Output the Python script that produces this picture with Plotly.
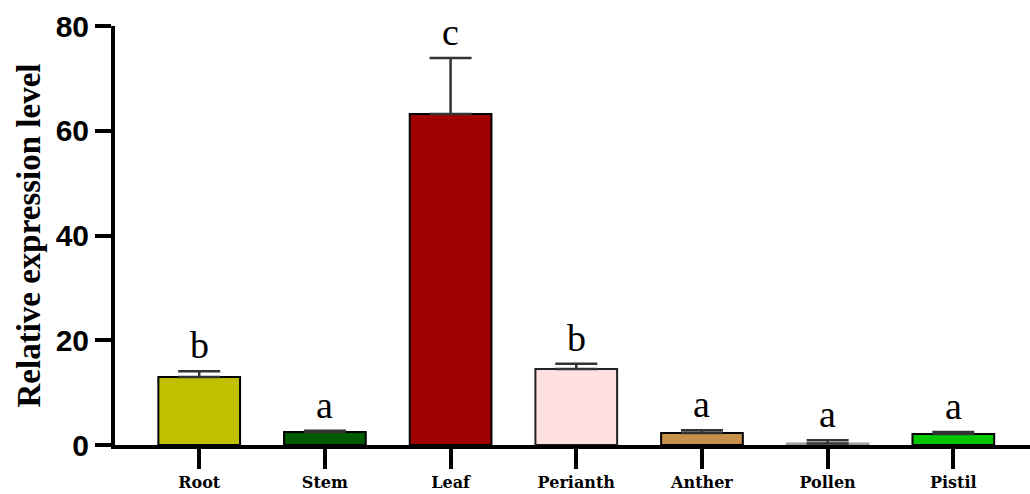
import plotly.graph_objects as go

categories = ["Root", "Stem", "Leaf", "Perianth", "Anther", "Pollen", "Pistil"]
values = [13.0, 2.5, 63.2, 14.5, 2.3, 0.3, 2.1]
err_upper = [1.1, 0.2, 10.7, 1.0, 0.5, 0.6, 0.4]
letters = ["b", "a", "c", "b", "a", "a", "a"]
colors = ["#C0C000", "#005A00", "#A00000", "#FFE0E0", "#C8914B", "#D3D3D3", "#00C800"]
outline_colors = ["black", "black", "black", "#222222", "black", "#A0A0A0", "black"]
y_ticks = [0, 20, 40, 60, 80]

fig = go.Figure()
fig.add_trace(go.Bar(
    x=list(range(len(categories))),
    y=values,
    width=0.65,
    marker=dict(color=colors, line=dict(color=outline_colors, width=2)),
    error_y=dict(type="data", symmetric=False, array=err_upper,
                 arrayminus=[0] * len(values), color="#333333",
                 thickness=2.5, width=21),
    showlegend=False,
))

for i, (v, e, l) in enumerate(zip(values, err_upper, letters)):
    fig.add_annotation(x=i, y=v + e, text=l, showarrow=False,
                       yanchor="bottom", yshift=3,
                       font=dict(family="Times New Roman, Liberation Serif, serif",
                                 size=38, color="black"))

fig.update_layout(
    width=1030, height=494,
    margin=dict(l=115, r=0, t=26, b=49, autoexpand=False),
    plot_bgcolor="white", paper_bgcolor="white",
    bargap=0.35,
)
fig.update_xaxes(
    range=[-0.67, 6.61], automargin=False,
    tickmode="array", tickvals=list(range(len(categories))), ticktext=categories,
    ticks="outside", ticklen=20, tickwidth=4, tickcolor="black",
    showline=True, linecolor="black", linewidth=4,
    showgrid=False, zeroline=False,
    tickfont=dict(family="DejaVu Serif, serif", size=16,
                  color="black", weight="bold"),
)
fig.update_yaxes(
    range=[0, 80], automargin=False,
    tickmode="array", tickvals=y_ticks,
    ticks="outside", ticklen=16, tickwidth=4, tickcolor="black",
    showline=True, linecolor="black", linewidth=4,
    showgrid=False, zeroline=False,
    tickfont=dict(family="Arial, Liberation Sans, sans-serif", size=30,
                  color="black", weight="bold"),
    title=dict(text="Relative expression level", standoff=6,
               font=dict(family="Times New Roman, Liberation Serif, serif",
                         size=33, color="black", weight="bold")),
)

fig.write_html("out.html", config={"displayModeBar": False},
               post_script="document.body.style.margin='0';")
